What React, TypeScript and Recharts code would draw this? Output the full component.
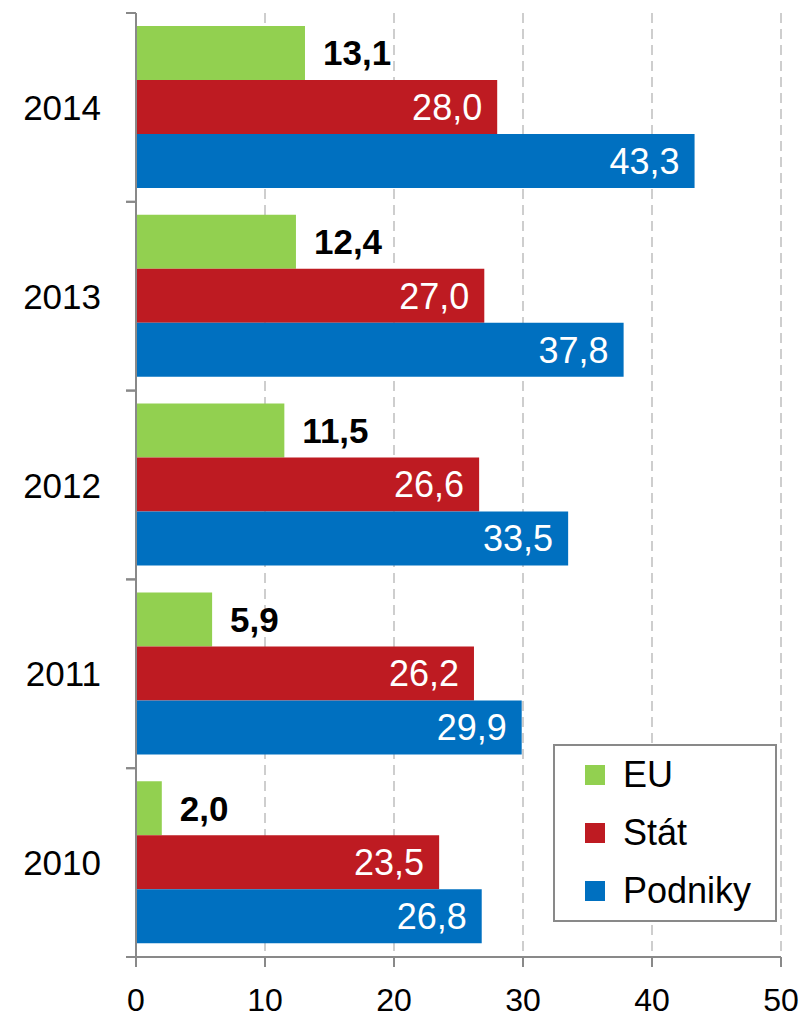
import React from 'react';
import { BarChart, Bar, XAxis, YAxis, CartesianGrid, Legend, LabelList } from 'recharts';

const years = ['2010', '2011', '2012', '2013', '2014'];
const euValues = [2.0, 5.9, 11.5, 12.4, 13.1];
const statValues = [23.5, 26.2, 26.6, 27.0, 28.0];
const podnikyValues = [26.8, 29.9, 33.5, 37.8, 43.3];
const xTicks = [0, 10, 20, 30, 40, 50];

const seriesNames = { eu: 'EU', stat: 'Stát', podniky: 'Podniky' };
const colors = { eu: '#92D050', stat: '#BE1B22', podniky: '#0070C0' };

const data = years.map((year, i) => ({
  year,
  eu: euValues[i],
  stat: statValues[i],
  podniky: podnikyValues[i],
}));

const FONT = '"Liberation Sans", Arial, sans-serif';
const AXIS = '#898989';

const fmt = (v: any) => Number(v).toFixed(1).replace('.', ',');

const YTick = (props: any) => {
  const { x, y, payload } = props;
  const off = payload && typeof payload.offset === 'number' ? payload.offset : 0;
  return (
    <g>
      <text x={x - 35} y={y} textAnchor="end" dominantBaseline="central" fontSize={35} fontFamily={FONT} fill="#000">
        {payload.value}
      </text>
      <line x1={x - 10} x2={x} y1={y - off} y2={y - off} stroke={AXIS} strokeWidth={2} />
      <line x1={x - 10} x2={x} y1={y + off} y2={y + off} stroke={AXIS} strokeWidth={2} />
    </g>
  );
};

const LegendBox = () => {
  const items = [
    { name: seriesNames.eu, color: colors.eu },
    { name: seriesNames.stat, color: colors.stat },
    { name: seriesNames.podniky, color: colors.podniky },
  ];
  return (
    <div
      style={{
        width: 220,
        border: `2px solid ${AXIS}`,
        background: '#fff',
        fontFamily: FONT,
        fontSize: 36,
        color: '#000',
      }}
    >
      {items.map((it) => (
        <div key={it.name} style={{ height: 58, display: 'flex', alignItems: 'center', paddingLeft: 30 }}>
          <div style={{ width: 20, height: 20, background: it.color, marginRight: 18 }} />
          <span style={{ lineHeight: '36px' }}>{it.name}</span>
        </div>
      ))}
    </div>
  );
};

export default function App() {
  return (
    <div style={{ position: 'absolute', left: 0, top: 0, width: 807, height: 1018, background: '#fff' }}>
      <BarChart
        width={807}
        height={1018}
        data={data}
        layout="vertical"
        margin={{ top: 13, right: 26, bottom: 0, left: 0 }}
        barCategoryGap={13}
        barGap={0}
      >
        <CartesianGrid horizontal={false} stroke="#BFBFBF" strokeWidth={1.5} strokeDasharray="10 6" />
        <XAxis
          type="number"
          domain={[0, 50]}
          ticks={xTicks}
          height={61}
          tickSize={10}
          tickMargin={21}
          axisLine={{ stroke: AXIS, strokeWidth: 2 }}
          tickLine={{ stroke: AXIS, strokeWidth: 2 }}
          tick={{ fill: '#000', fontSize: 32, fontFamily: FONT }}
        />
        <YAxis
          type="category"
          dataKey="year"
          reversed
          width={136}
          tickLine={false}
          tickSize={0}
          tickMargin={0}
          axisLine={{ stroke: AXIS, strokeWidth: 2 }}
          tick={<YTick />}
        />
        <Legend
          layout="vertical"
          align="center"
          verticalAlign="middle"
          content={<LegendBox />}
          wrapperStyle={{ left: 553, top: 744, width: 224, height: 178 }}
        />
        <Bar dataKey="eu" name={seriesNames.eu} fill={colors.eu} isAnimationActive={false}>
          <LabelList
            dataKey="eu"
            position="right"
            offset={18}
            formatter={fmt}
            fill="#000"
            fontSize={35}
            fontWeight="bold"
            fontFamily={FONT}
          />
        </Bar>
        <Bar dataKey="stat" name={seriesNames.stat} fill={colors.stat} isAnimationActive={false}>
          <LabelList
            dataKey="stat"
            position="insideRight"
            offset={15}
            formatter={fmt}
            fill="#fff"
            fontSize={36}
            fontFamily={FONT}
          />
        </Bar>
        <Bar dataKey="podniky" name={seriesNames.podniky} fill={colors.podniky} isAnimationActive={false}>
          <LabelList
            dataKey="podniky"
            position="insideRight"
            offset={15}
            formatter={fmt}
            fill="#fff"
            fontSize={36}
            fontFamily={FONT}
          />
        </Bar>
      </BarChart>
    </div>
  );
}
